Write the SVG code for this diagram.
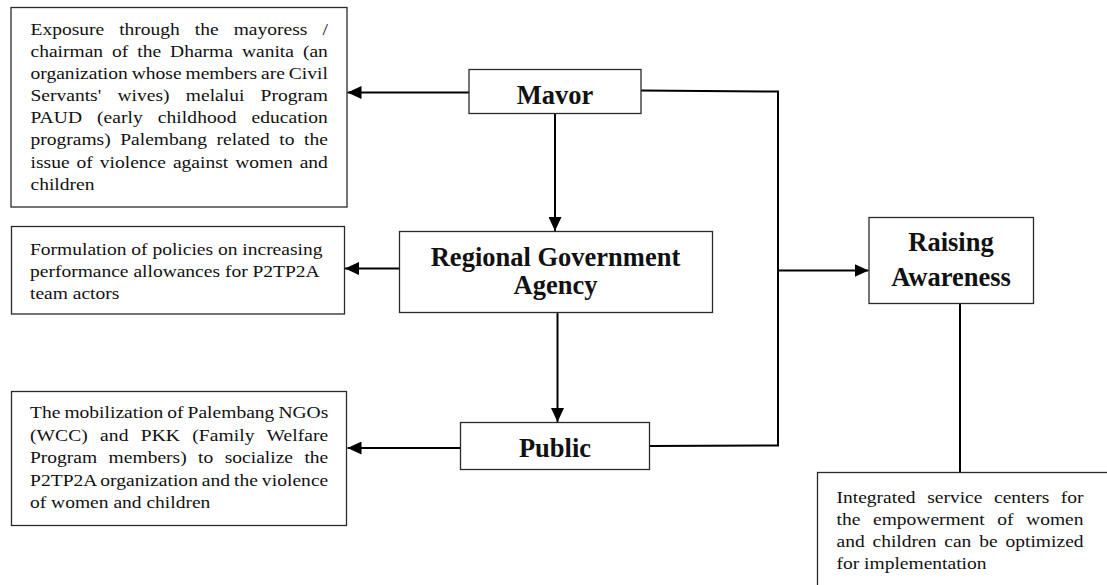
<svg xmlns="http://www.w3.org/2000/svg" width="1107" height="585" viewBox="0 0 1107 585">
<style>
.box{fill:#fff;stroke:#2a2a2a;stroke-width:1.3}
.body{font-family:"Liberation Serif","Times New Roman",serif;font-size:16px;fill:#111}
.bold{font-family:"Liberation Serif","Times New Roman",serif;font-size:26.5px;font-weight:bold;fill:#111;text-anchor:middle}
.conn{fill:none;stroke:#000;stroke-width:2}
</style>
<defs>
<marker id="arr" markerUnits="userSpaceOnUse" markerWidth="14" markerHeight="13" refX="14" refY="6.5" orient="auto">
<path d="M0,0 L14,6.5 L0,13 z" fill="#000"/>
</marker>
</defs>
<rect width="1107" height="585" fill="#fff"/>

<g id="connectors">
<line class="conn" x1="469" y1="92.5" x2="347.5" y2="92.5" marker-end="url(#arr)"/>
<line class="conn" x1="555" y1="113.5" x2="555" y2="231" marker-end="url(#arr)"/>
<line class="conn" x1="399.5" y1="268.5" x2="345" y2="268.5" marker-end="url(#arr)"/>
<line class="conn" x1="557.5" y1="312.5" x2="557.5" y2="422" marker-end="url(#arr)"/>
<line class="conn" x1="460.5" y1="448" x2="347.5" y2="448" marker-end="url(#arr)"/>
<polyline class="conn" points="641,90.5 778,91.5 778,445.5 650,446"/>
<line class="conn" x1="779" y1="270.5" x2="868.5" y2="270.5" marker-end="url(#arr)"/>
<line class="conn" x1="960" y1="303.5" x2="960" y2="472.5"/>
</g>

<g id="node-exposure">
<rect class="box" x="11" y="7.5" width="336" height="199.5"/>
<g transform="translate(30.5,0) scale(1.22,1)">
<text class="body">
<tspan x="0" y="35" word-spacing="8.28" textLength="243.7" lengthAdjust="spacing">Exposure through the mayoress /</tspan>
<tspan x="0" y="57.1" word-spacing="3.34" textLength="243.7" lengthAdjust="spacing">chairman of the Dharma wanita (an</tspan>
<tspan x="0" y="79.2" word-spacing="-0.85" textLength="243.7" lengthAdjust="spacing">organization whose members are Civil</tspan>
<tspan x="0" y="101.3" word-spacing="9.33" textLength="243.7" lengthAdjust="spacing">Servants' wives) melalui Program</tspan>
<tspan x="0" y="123.4" word-spacing="8.2" textLength="243.7" lengthAdjust="spacing">PAUD (early childhood education</tspan>
<tspan x="0" y="145.5" word-spacing="3.83" textLength="243.7" lengthAdjust="spacing">programs) Palembang related to the</tspan>
<tspan x="0" y="167.6" word-spacing="1.72" textLength="243.7" lengthAdjust="spacing">issue of violence against women and</tspan>
<tspan x="0" y="189.7">children</tspan>
</text>
</g>
</g>

<g id="node-mayor">
<rect class="box" x="469" y="69.5" width="172" height="44"/>
<text class="bold" x="555" y="104">Mavor</text>
</g>

<g id="node-regional">
<rect class="box" x="399.5" y="231.5" width="313" height="81"/>
<text class="bold" x="555.5" y="265.5">Regional Government</text>
<text class="bold" x="555.5" y="294">Agency</text>
</g>

<g id="node-formulation">
<rect class="box" x="11.5" y="226.5" width="333" height="87.5"/>
<g transform="translate(30,0) scale(1.22,1)">
<text class="body">
<tspan x="0" y="255">Formulation of policies on increasing</tspan>
<tspan x="0" y="277">performance allowances for P2TP2A</tspan>
<tspan x="0" y="299">team actors</tspan>
</text>
</g>
</g>

<g id="node-public">
<rect class="box" x="460.5" y="422.5" width="189" height="47"/>
<text class="bold" x="555" y="456.5">Public</text>
</g>

<g id="node-mobilization">
<rect class="box" x="11.5" y="391.5" width="335" height="134"/>
<g transform="translate(30,0) scale(1.22,1)">
<text class="body">
<tspan x="0" y="418.3" word-spacing="-0.66" textLength="244.5" lengthAdjust="spacing">The mobilization of Palembang NGOs</tspan>
<tspan x="0" y="440.8" word-spacing="6.0" textLength="244.5" lengthAdjust="spacing">(WCC) and PKK (Family Welfare</tspan>
<tspan x="0" y="463.3" word-spacing="5.35" textLength="244.5" lengthAdjust="spacing">Program members) to socialize the</tspan>
<tspan x="0" y="485.8" word-spacing="-0.87" textLength="244.5" lengthAdjust="spacing">P2TP2A organization and the violence</tspan>
<tspan x="0" y="508.3">of women and children</tspan>
</text>
</g>
</g>

<g id="node-raising">
<rect class="box" x="869" y="217.5" width="164.5" height="86"/>
<text class="bold" x="951" y="250.5">Raising</text>
<text class="bold" x="951" y="286">Awareness</text>
</g>

<g id="node-integrated">
<rect class="box" x="817.5" y="472.5" width="300" height="130"/>
<g transform="translate(836.5,0) scale(1.22,1)">
<text class="body">
<tspan x="0" y="503.3" word-spacing="5.47" textLength="202.5" lengthAdjust="spacing">Integrated service centers for</tspan>
<tspan x="0" y="525.3" word-spacing="6.33" textLength="202.5" lengthAdjust="spacing">the empowerment of women</tspan>
<tspan x="0" y="547.3" word-spacing="2.42" textLength="202.5" lengthAdjust="spacing">and children can be optimized</tspan>
<tspan x="0" y="569.3">for implementation</tspan>
</text>
</g>
</g>
</svg>
